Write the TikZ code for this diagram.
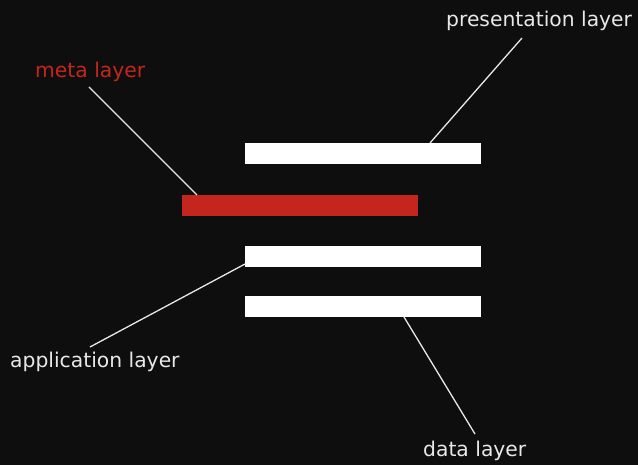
\documentclass[tikz,border=0pt]{standalone}
\usepackage{fontspec}
\setmainfont{DejaVu Sans}
\definecolor{bg}{HTML}{0E0E0E}
\definecolor{layerred}{HTML}{C4261D}
\definecolor{ink}{HTML}{E8E8E8}
\begin{document}
\begin{tikzpicture}[x=1pt,y=-1pt,
  bar/.style={fill=white,draw=none},
  redbar/.style={fill=layerred,draw=none},
  lbl/.style={text=ink,font=\fontsize{20.3}{24}\selectfont,inner sep=0pt,anchor=base west},
  leader/.style={draw=ink,line width=1.3pt}]
  \fill[bg] (0,0) rectangle (638,465);
  \useasboundingbox (0,0) rectangle (638,465);
  % layer bars
  \path[bar]    (245,143) rectangle (481,164) coordinate[pos=0.5] (pres);
  \path[redbar] (182,195) rectangle (418,216) coordinate[pos=0.5] (meta);
  \path[bar]    (245,246) rectangle (481,267) coordinate[pos=0.5] (app);
  \path[bar]    (245,296) rectangle (481,317) coordinate[pos=0.5] (data);
  % labels
  \node[lbl] (presL) at (446,27) {presentation layer};
  \node[lbl,text=layerred] (metaL) at (35,78) {meta layer};
  \node[lbl] (appL) at (10,368) {application layer};
  \node[lbl] (dataL) at (423,456) {data layer};
  % leader ends on the bars and below the labels
  \coordinate (presA) at (430,143);
  \coordinate (presB) at (522,38);
  \coordinate (metaA) at (197,195);
  \coordinate (metaB) at (89,87);
  \coordinate (appA) at (245,264);
  \coordinate (appB) at (90,347);
  \coordinate (dataA) at (404,317);
  \coordinate (dataB) at (475,434);
  \draw[leader] (presA) -- (presB);
  \draw[leader] (metaA) -- (metaB);
  \draw[leader] (appA) -- (appB);
  \draw[leader] (dataA) -- (dataB);
\end{tikzpicture}
\end{document}
